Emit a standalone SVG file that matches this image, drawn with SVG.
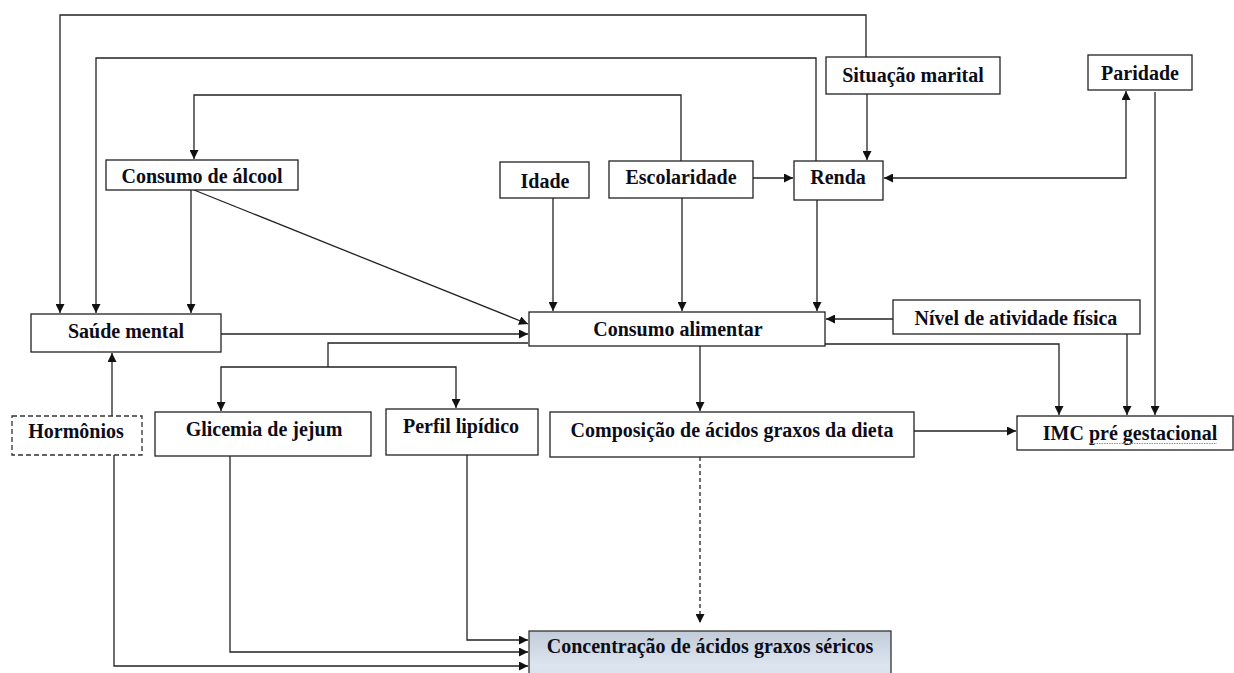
<svg xmlns="http://www.w3.org/2000/svg" width="1234" height="673" viewBox="0 0 1234 673">
<defs>
<marker id="arr" viewBox="0 0 10 10" refX="10" refY="5" markerWidth="9" markerHeight="9" markerUnits="userSpaceOnUse" orient="auto-start-reverse">
<path d="M0,0 L10,5 L0,10 z" fill="#111"/>
</marker>
<linearGradient id="grad" x1="0" y1="0" x2="0" y2="1">
<stop offset="0" stop-color="#c2ccd8"/>
<stop offset="0.7" stop-color="#dce5f0"/>
<stop offset="1" stop-color="#d6dfea"/>
</linearGradient>
<style>
.box{fill:#fff;stroke:#222;stroke-width:1.3}
.dash{fill:#fff;stroke:#333;stroke-width:1.3;stroke-dasharray:5,3}
.lbl{font-family:"Liberation Serif","Times New Roman",serif;font-weight:bold;font-size:20px;fill:#0d0d1a;text-anchor:middle}
.c{fill:none;stroke:#222;stroke-width:1.3}
.ca{fill:none;stroke:#222;stroke-width:1.3;marker-end:url(#arr)}
</style>
</defs>
<rect width="1234" height="673" fill="#fff"/>
<g id="connectors">
<path class="ca" d="M866,57 V15 H60 V313"/>
<path class="ca" d="M816,161 V58 H96 V313"/>
<path class="ca" d="M681,161 V95 H194 V159"/>
<path class="ca" d="M753,178 H793"/>
<path class="ca" d="M867,94 V160"/>
<path class="ca" d="M884,178 H1126 V91" style="marker-start:url(#arr)"/>
<path class="ca" d="M1155,92 V415"/>
<path class="ca" d="M191,190 V313"/>
<path class="ca" d="M194,190 L528,324"/>
<path class="ca" d="M553,198 V311"/>
<path class="ca" d="M682,198 V311"/>
<path class="ca" d="M817,200 V311"/>
<path class="ca" d="M221,334 H528"/>
<path class="ca" d="M893,319 H826"/>
<path class="c" d="M528,343 H328 V367"/>
<path class="ca" d="M328,367 H221 V411"/>
<path class="ca" d="M328,367 H456 V408"/>
<path class="ca" d="M700,346 V411"/>
<path class="ca" d="M825,344 H1059 V415"/>
<path class="ca" d="M1127,334 V415"/>
<path class="ca" d="M914,431 H1016"/>
<path class="ca" d="M700,457 V623" style="stroke-dasharray:4,3"/>
<path class="ca" d="M112,416 V353"/>
<path class="ca" d="M114,455 V666 H528"/>
<path class="ca" d="M230,456 V652 H528"/>
<path class="ca" d="M467,455 V640 H528"/>
</g>
<g id="consumo-alcool"><rect class="box" x="106" y="160" width="192" height="30"/><text class="lbl" x="202" y="183">Consumo de álcool</text></g>
<g id="idade"><rect class="box" x="500" y="162" width="89" height="36"/><text class="lbl" x="545" y="188">Idade</text></g>
<g id="escolaridade"><rect class="box" x="609" y="161" width="144" height="37"/><text class="lbl" x="681" y="184">Escolaridade</text></g>
<g id="renda"><rect class="box" x="794" y="161" width="89" height="39"/><text class="lbl" x="838" y="184">Renda</text></g>
<g id="situacao-marital"><rect class="box" x="826" y="57" width="174" height="37"/><text class="lbl" x="913" y="82">Situação marital</text></g>
<g id="paridade"><rect class="box" x="1088" y="55" width="104" height="35"/><text class="lbl" x="1140" y="80">Paridade</text></g>
<g id="saude-mental"><rect class="box" x="31" y="314" width="190" height="38"/><text class="lbl" x="126" y="338">Saúde mental</text></g>
<g id="consumo-alimentar"><rect class="box" x="529" y="312" width="296" height="34"/><text class="lbl" x="678" y="336">Consumo alimentar</text></g>
<g id="nivel-atividade"><rect class="box" x="893" y="300" width="247" height="34"/><text class="lbl" x="1016" y="325">Nível de atividade física</text></g>
<g id="hormonios"><rect class="dash" x="12" y="416" width="130" height="39"/><text class="lbl" x="76" y="438">Hormônios</text></g>
<g id="glicemia"><rect class="box" x="155" y="412" width="216" height="44"/><text class="lbl" x="264" y="436">Glicemia de jejum</text></g>
<g id="perfil-lipidico"><rect class="box" x="386" y="409" width="152" height="46"/><text class="lbl" x="461" y="433">Perfil lipídico</text></g>
<g id="composicao"><rect class="box" x="550" y="412" width="364" height="45"/><text class="lbl" x="732" y="437">Composição de ácidos graxos da dieta</text></g>
<g id="imc"><rect class="box" x="1017" y="416" width="216" height="34"/><text class="lbl" x="1130" y="440">IMC pré gestacional</text><path d="M1089,443.5 H1217" stroke="#5cb85c" stroke-width="1" stroke-dasharray="1.5,1" fill="none"/></g>
<g id="concentracao"><rect x="529" y="631" width="362" height="50" fill="url(#grad)" stroke="#333" stroke-width="1.3"/><text class="lbl" x="710" y="653">Concentração de ácidos graxos séricos</text></g>
</svg>
